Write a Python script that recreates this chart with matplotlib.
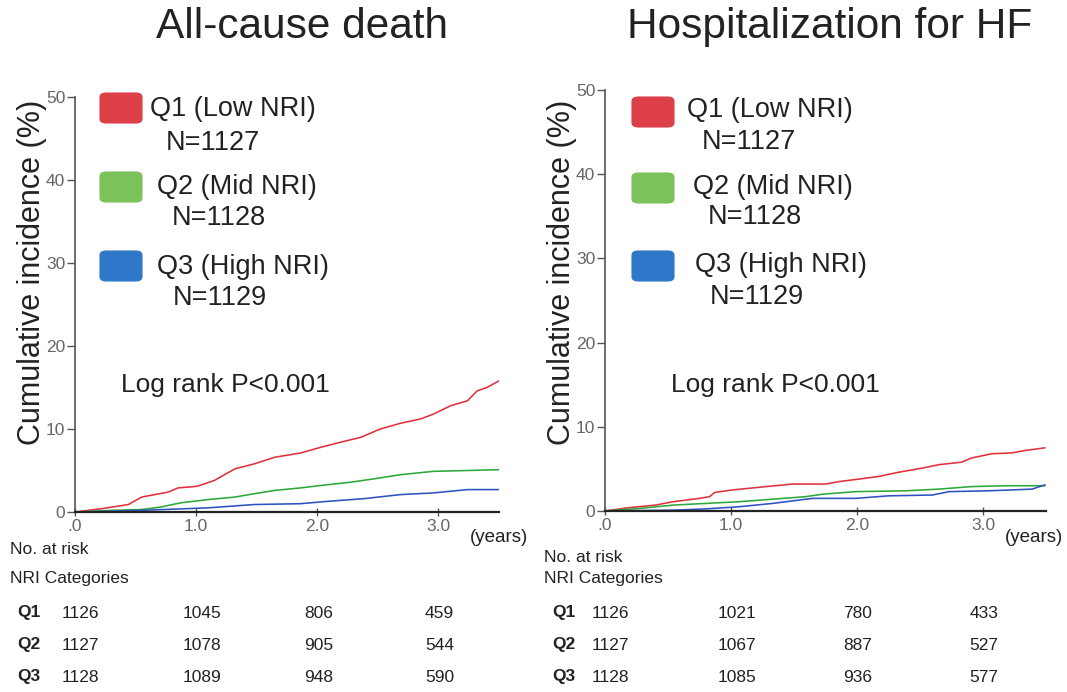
import matplotlib
matplotlib.use("Agg")
import matplotlib.pyplot as plt
import matplotlib.transforms as mtransforms
from matplotlib.patches import FancyBboxPatch

plt.rcParams['font.family'] = ['Liberation Sans', 'DejaVu Sans']

# ---------------- data ----------------
titles = ["All-cause death", "Hospitalization for HF"]
groups = ["Q1", "Q2", "Q3"]
group_labels = ["Q1 (Low NRI)", "Q2 (Mid NRI)", "Q3 (High NRI)"]
group_n = ["N=1127", "N=1128", "N=1129"]
risk_times = [0, 1, 2, 3]
xtick_labels = [".0", "1.0", "2.0", "3.0"]
ytick_values = [0, 10, 20, 30, 40, 50]

# All-cause death curves
death_q1_t = [0, 0.22, 0.44, 0.55, 0.77, 0.85, 1.01, 1.15, 1.32, 1.48, 1.65, 1.86, 2.03, 2.19, 2.36, 2.52, 2.69, 2.85, 2.96, 3.10, 3.24, 3.32, 3.40, 3.50]
death_q1_y = [0, 0.4, 0.9, 1.8, 2.4, 2.9, 3.1, 3.8, 5.2, 5.8, 6.6, 7.1, 7.8, 8.4, 9.0, 10.0, 10.7, 11.2, 11.8, 12.8, 13.4, 14.6, 15.0, 15.8]
death_q2_t = [0, 0.30, 0.55, 0.71, 0.87, 1.10, 1.32, 1.48, 1.65, 1.86, 2.03, 2.28, 2.47, 2.69, 2.96, 3.24, 3.50]
death_q2_y = [0, 0.2, 0.3, 0.6, 1.1, 1.5, 1.8, 2.2, 2.6, 2.9, 3.2, 3.6, 4.0, 4.5, 4.9, 5.0, 5.1]
death_q3_t = [0, 0.30, 0.55, 1.10, 1.48, 1.86, 2.10, 2.38, 2.69, 2.96, 3.24, 3.50]
death_q3_y = [0, 0.1, 0.2, 0.5, 0.9, 1.0, 1.3, 1.6, 2.1, 2.3, 2.7, 2.7]

# Hospitalization for HF curves
hf_q1_t = [0, 0.19, 0.40, 0.54, 0.75, 0.83, 0.87, 1.01, 1.28, 1.49, 1.75, 1.86, 2.02, 2.17, 2.33, 2.52, 2.65, 2.83, 2.91, 3.07, 3.23, 3.34, 3.49]
hf_q1_y = [0, 0.4, 0.7, 1.1, 1.5, 1.7, 2.2, 2.5, 2.9, 3.2, 3.2, 3.5, 3.8, 4.1, 4.6, 5.1, 5.5, 5.8, 6.3, 6.8, 6.9, 7.2, 7.5]
hf_q2_t = [0, 0.27, 0.54, 0.80, 1.06, 1.33, 1.59, 1.73, 1.99, 2.39, 2.65, 2.91, 3.18, 3.49]
hf_q2_y = [0, 0.3, 0.7, 0.9, 1.1, 1.4, 1.7, 2.0, 2.3, 2.4, 2.6, 2.9, 3.0, 3.0]
hf_q3_t = [0, 0.54, 0.80, 1.06, 1.33, 1.54, 1.65, 1.99, 2.25, 2.60, 2.73, 3.05, 3.39, 3.49]
hf_q3_y = [0, 0.1, 0.25, 0.5, 0.9, 1.3, 1.5, 1.5, 1.8, 1.9, 2.3, 2.4, 2.6, 3.1]

# Numbers at risk
death_risk_q1 = [1126, 1045, 806, 459]
death_risk_q2 = [1127, 1078, 905, 544]
death_risk_q3 = [1128, 1089, 948, 590]
hf_risk_q1 = [1126, 1021, 780, 433]
hf_risk_q2 = [1127, 1067, 887, 527]
hf_risk_q3 = [1128, 1085, 936, 577]

pvalue_text = "Log rank P<0.001"

# ---------------- style ----------------
line_colors = ["#e0323c", "#2ea83a", "#2f52c2"]
box_colors = ["#dc3f48", "#7cc25a", "#2f77c9"]

W, H = 1067, 692
fig = plt.figure(figsize=(W / 100, H / 100), dpi=100)
fig.patch.set_facecolor("white")

def fx(px):
    return px / W

def fy(py):
    return 1 - py / H

panels = [
    dict(rect=[fx(75), fy(512), fx(499) - fx(75), fy(97) - fy(512)],
         curves=[(death_q1_t, death_q1_y), (death_q2_t, death_q2_y), (death_q3_t, death_q3_y)],
         risk=[death_risk_q1, death_risk_q2, death_risk_q3],
         title_x=302, ylabel_x=32,
         box_x=100, box_y=[93, 172, 251],
         lab_x=[150, 157, 157], lab_y=[109, 187, 267],
         n_x=[166, 172, 173], n_y=[143, 218, 298],
         p_xy=(121, 385), years_x=3.26,
         table_x=10, q_x=17, risk_first_y=550),
    dict(rect=[fx(605), fy(511), fx(1046) - fx(605), fy(90) - fy(511)],
         curves=[(hf_q1_t, hf_q1_y), (hf_q2_t, hf_q2_y), (hf_q3_t, hf_q3_y)],
         risk=[hf_risk_q1, hf_risk_q2, hf_risk_q3],
         title_x=830, ylabel_x=562,
         box_x=632, box_y=[97, 173, 251],
         lab_x=[687, 693, 695], lab_y=[110, 187, 265],
         n_x=[702, 708, 710], n_y=[142, 217, 297],
         p_xy=(671, 385), years_x=3.17,
         table_x=544, q_x=552, risk_first_y=557),
]

for i, p in enumerate(panels):
    ax = fig.add_axes(p["rect"])
    for (t, y), c in zip(p["curves"], line_colors):
        ax.plot(t, y, color=c, lw=1.15)
    ax.set_xlim(0, 3.5)
    ax.set_ylim(0, 50)
    ax.set_xticks(risk_times)
    ax.set_xticklabels(xtick_labels)
    ax.set_yticks(ytick_values)
    ax.spines["top"].set_visible(False)
    ax.spines["right"].set_visible(False)
    ax.spines["left"].set_color("#555555")
    ax.spines["left"].set_linewidth(1.2)
    ax.spines["bottom"].set_color("#222222")
    ax.spines["bottom"].set_linewidth(1.6)
    ax.tick_params(axis="y", direction="out", length=6, width=1.0, color="#555555",
                   labelsize=12.5, labelcolor="#666666", pad=1)
    ax.tick_params(axis="x", direction="inout", length=6, width=1.0, color="#555555",
                   labelsize=12.5, labelcolor="#666666", pad=2)
    ax.patch.set_alpha(0)

    # title and y label
    fig.text(fx(p["title_x"]), fy(27), titles[i], fontsize=30.5, ha="center", va="center", color="#222222")
    fig.text(fx(p["ylabel_x"]), fy(272), "Cumulative incidence (%)", fontsize=22,
             rotation=90, ha="center", va="center", color="#222222")

    trans = mtransforms.blended_transform_factory(ax.transData, fig.transFigure)

    # years label
    ax.text(p["years_x"], fy(538), "(years)", transform=trans,
            fontsize=13.5, ha="left", va="center", color="#222222", clip_on=False)

    # legend
    for k in range(3):
        box = FancyBboxPatch((fx(p["box_x"]), fy(p["box_y"][k] + 30)), fx(42), 30 / H,
                             boxstyle="round,pad=0,rounding_size=0.006",
                             transform=fig.transFigure, facecolor=box_colors[k],
                             edgecolor=box_colors[k], lw=0.8)
        fig.add_artist(box)
        fig.text(fx(p["lab_x"][k]), fy(p["lab_y"][k]), group_labels[k], fontsize=19.5,
                 ha="left", va="center", color="#222222")
        fig.text(fx(p["n_x"][k]), fy(p["n_y"][k]), group_n[k], fontsize=19.5,
                 ha="left", va="center", color="#222222")

    # p value
    fig.text(fx(p["p_xy"][0]), fy(p["p_xy"][1]), pvalue_text, fontsize=19,
             ha="left", va="center", color="#222222")

    # numbers at risk table
    fig.text(fx(p["table_x"]), fy(p["risk_first_y"]), "No. at risk", fontsize=12.5,
             ha="left", va="center", color="#222222")
    fig.text(fx(p["table_x"]), fy(578), "NRI Categories", fontsize=12.5,
             ha="left", va="center", color="#222222")
    row_y = [613, 645, 677]
    for k in range(3):
        fig.text(fx(p["q_x"]), fy(row_y[k]), groups[k], fontsize=12.5, fontweight="bold",
                 ha="left", va="center", color="#222222")
        for t, v in zip(risk_times, p["risk"][k]):
            ax.text(t - 0.11, fy(row_y[k]), str(v), transform=trans, fontsize=12.5,
                    ha="left", va="center", color="#222222", clip_on=False)

fig.savefig("out.png", dpi=100, facecolor="white")
